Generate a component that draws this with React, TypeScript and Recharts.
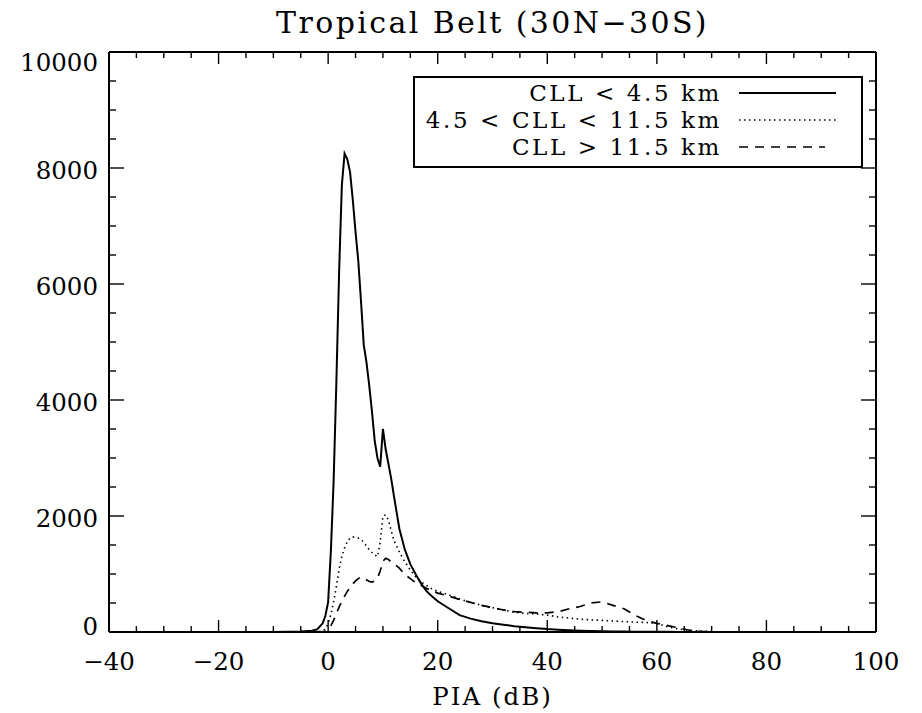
import React from "react";
import { LineChart, Line, XAxis, YAxis, Legend, ReferenceLine } from "recharts";

// PIA bins (dB)
const pia = [
  -40, -20, -10, -5, -3, -2, -1, -0.5,
  0, 0.5, 1, 1.5, 2, 2.5, 3, 3.5, 4, 4.5, 5, 5.5, 6, 6.5, 7, 7.5, 8, 8.5, 9, 9.5, 10, 10.5, 11, 11.5, 12,
  13, 14, 15, 16, 17, 18, 19, 20,
  22, 24, 26, 28, 30, 32, 34, 36, 38, 40, 42, 44, 46, 48, 50, 52, 54, 56, 58, 60, 62, 64, 66, 68, 70,
  75, 80, 90, 100,
];

// CLL < 4.5 km
const cllLow = [
  0, 0, 2, 8, 20, 45, 150, 280,
  520, 1400, 2600, 4300, 6200, 7700, 8250, 8150, 7930, 7450, 6900, 6400, 5700, 4950, 4650, 4250, 3800, 3300, 3000, 2850, 3500, 3150, 2900, 2650, 2350,
  1780, 1420, 1170, 990, 830, 700, 610, 530,
  410, 290, 230, 185, 150, 125, 100, 82, 65, 50, 40, 30, 22, 16, 12, 10, 8, 6, 5, 4, 3, 2, 2, 1, 1,
  0, 0, 0, 0,
];

// 4.5 < CLL < 11.5 km
const cllMid = [
  0, 0, 0, 0, 0, 5, 20, 50,
  150, 300, 520, 780, 1080, 1300, 1450, 1560, 1620, 1640, 1630, 1620, 1590, 1550, 1480, 1420, 1370, 1330, 1300, 1550, 2000, 2020, 1930, 1750, 1580,
  1380, 1210, 1070, 950, 860, 800, 740, 700,
  640, 570, 510, 460, 420, 380, 340, 320, 310, 290, 260, 240, 220, 210, 200, 190, 180, 170, 165, 150, 90, 50, 30, 15, 6,
  2, 0, 0, 0,
];

// CLL > 11.5 km
const cllHigh = [
  0, 0, 0, 0, 0, 0, 5, 15,
  60, 110, 200, 320, 430, 530, 620, 700, 770, 830, 880, 920, 950, 930, 900, 870, 860, 880, 930, 1050, 1220, 1270, 1250, 1210, 1180,
  1100, 990, 920, 850, 800, 750, 710, 670,
  620, 560, 510, 460, 420, 380, 350, 340, 330, 330, 350, 400, 440, 500, 520, 460, 400, 290, 200, 150, 110, 70, 30, 10, 3,
  0, 0, 0, 0,
];

const xTicks = [-40, -35, -30, -25, -20, -15, -10, -5, 0, 5, 10, 15, 20, 25, 30, 35, 40, 45, 50, 55, 60, 65, 70, 75, 80, 85, 90, 95, 100];
const yTicks = [0, 500, 1000, 1500, 2000, 2500, 3000, 3500, 4000, 4500, 5000, 5500, 6000, 6500, 7000, 7500, 8000, 8500, 9000, 9500, 10000];

const series = [
  { key: "low", name: "CLL < 4.5 km", dash: undefined as string | undefined, width: 2 },
  { key: "mid", name: "4.5 < CLL < 11.5 km", dash: "1.5 3.5", width: 1.6 },
  { key: "high", name: "CLL > 11.5 km", dash: "9 7", width: 1.7 },
];

const data = pia.map((x, i) => ({ pia: x, low: cllLow[i], mid: cllMid[i], high: cllHigh[i] }));

const FONT = "DejaVu Serif";
const INK = "#000";

// plot box size (chart size minus margins), used to mirror ticks on the top / right edges
const PLOT_W = 767;
const PLOT_H = 580;

const fmt = (v: number) => (v < 0 ? `\u2212${Math.abs(v)}` : `${v}`);

function BottomTick(props: any) {
  const { x, y, payload } = props;
  const major = payload.value % 20 === 0;
  const len = major ? 12 : 6;
  return (
    <g>
      <line x1={x} y1={y} x2={x} y2={y - len} stroke={INK} strokeWidth={1.4} />
      <line x1={x} y1={y - PLOT_H} x2={x} y2={y - PLOT_H + len} stroke={INK} strokeWidth={1.4} />
      {major && (
        <text x={x} y={y + 38} textAnchor="middle" fontSize={24.5} fontFamily={FONT} fill={INK}>
          {fmt(payload.value)}
        </text>
      )}
    </g>
  );
}

function LeftTick(props: any) {
  const { x, y, payload } = props;
  const major = payload.value % 2000 === 0;
  const len = major ? 15 : 7;
  // IDL nudges the end labels inward
  let dy = 11;
  if (payload.value === 0) dy = 3;
  if (payload.value === 10000) dy = 19;
  return (
    <g>
      <line x1={x} y1={y} x2={x + len} y2={y} stroke={INK} strokeWidth={1.4} />
      <line x1={x + PLOT_W} y1={y} x2={x + PLOT_W - len} y2={y} stroke={INK} strokeWidth={1.4} />
      {major && (
        <text x={x - 11} y={y + dy} textAnchor="end" fontSize={24.5} fontFamily={FONT} fill={INK}>
          {payload.value}
        </text>
      )}
    </g>
  );
}

function AxisTitle(props: any) {
  const { viewBox } = props;
  return (
    <text
      x={viewBox.x + viewBox.width / 2}
      y={viewBox.y + 73}
      textAnchor="middle"
      fontSize={24.5}
      letterSpacing={2}
      fontFamily={FONT}
      fill={INK}
    >
      PIA (dB)
    </text>
  );
}

function LegendBox() {
  const rowY = [101, 128, 155];
  return (
    <svg width={452} height={94}>
      <rect x={1} y={1} width={448} height={90} fill="#fff" stroke={INK} strokeWidth={2} />
      {series.map((s, i) => (
        <g key={s.key}>
          <text
            x={309}
            y={rowY[i] - 76}
            textAnchor="end"
            fontSize={23}
            letterSpacing={2.6}
            fontFamily={FONT}
            fill={INK}
          >
            {s.name}
          </text>
          <line
            x1={326}
            x2={i === 2 ? 412 : 423}
            y1={rowY[i] - 84}
            y2={rowY[i] - 84}
            stroke={INK}
            strokeWidth={s.width}
            strokeDasharray={s.dash}
          />
        </g>
      ))}
    </svg>
  );
}

export default function App() {
  return (
    <div style={{ position: "absolute", left: 0, top: 0, width: 922, height: 713, background: "#fff" }}>
      <div
        style={{
          position: "absolute",
          left: 109,
          width: 767,
          top: 4,
          textAlign: "center",
          fontFamily: FONT,
          fontSize: 30,
          letterSpacing: 2.4,
          lineHeight: "38px",
          color: INK,
        }}
      >
        Tropical Belt (30N{"\u2212"}30S)
      </div>
      <LineChart width={922} height={713} data={data} margin={{ top: 52, right: 46, bottom: 80, left: 108 }}>
        <XAxis
          dataKey="pia"
          type="number"
          domain={[-40, 100]}
          ticks={xTicks}
          interval={0}
          height={1}
          tickSize={0}
          tickMargin={0}
          tickLine={false}
          tick={<BottomTick />}
          axisLine={{ stroke: INK, strokeWidth: 2 }}
          label={<AxisTitle />}
        />
        <YAxis
          type="number"
          domain={[0, 10000]}
          ticks={yTicks}
          interval={0}
          width={1}
          tickSize={0}
          tickMargin={0}
          tickLine={false}
          tick={<LeftTick />}
          axisLine={{ stroke: INK, strokeWidth: 2 }}
        />
        <ReferenceLine y={10000} stroke={INK} strokeWidth={2} />
        <ReferenceLine x={100} stroke={INK} strokeWidth={2} />
        <Legend
          layout="vertical"
          align="center"
          verticalAlign="middle"
          content={() => <LegendBox />}
          wrapperStyle={{ position: "absolute", left: 413, top: 76, width: 452, height: 94 }}
        />
        {series.map((s) => (
          <Line
            key={s.key}
            type="linear"
            dataKey={s.key}
            name={s.name}
            stroke={INK}
            strokeWidth={s.width}
            strokeDasharray={s.dash}
            dot={false}
            activeDot={false}
            isAnimationActive={false}
          />
        ))}
      </LineChart>
    </div>
  );
}
